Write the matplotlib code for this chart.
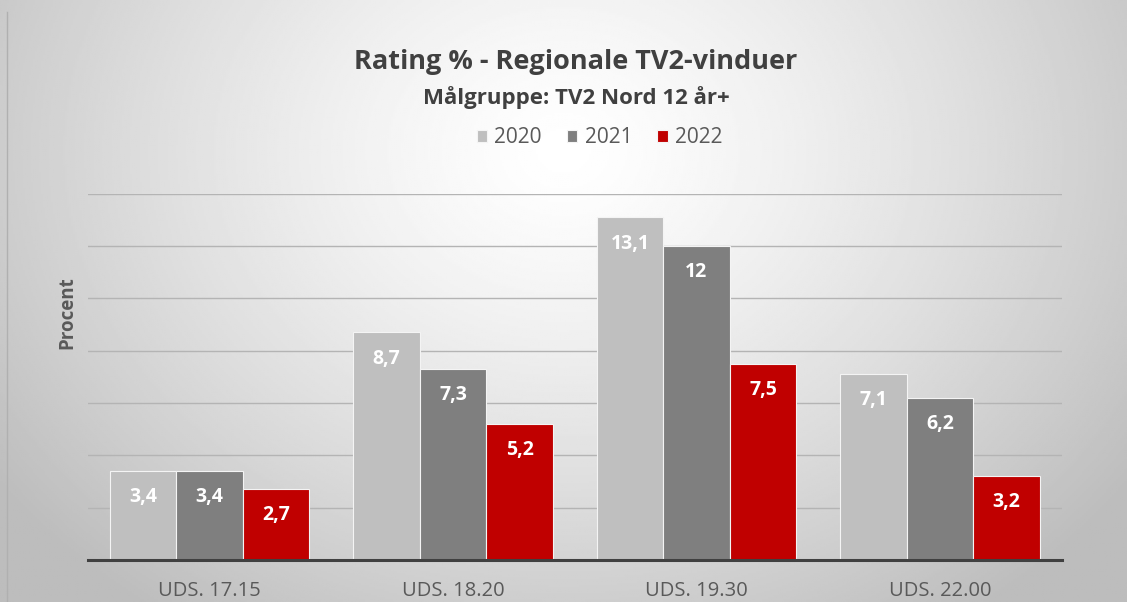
import matplotlib.pyplot as plt
import numpy as np

# ======= DATA =======
categories = ["UDS. 17.15", "UDS. 18.20", "UDS. 19.30", "UDS. 22.00"]
years = ["2020", "2021", "2022"]
values_2020 = [3.4, 8.7, 13.1, 7.1]
values_2021 = [3.4, 7.3, 12, 6.2]
values_2022 = [2.7, 5.2, 7.5, 3.2]
label_2020 = ["3,4", "8,7", "13,1", "7,1"]
label_2021 = ["3,4", "7,3", "12", "6,2"]
label_2022 = ["2,7", "5,2", "7,5", "3,2"]

colors = ["#bfbfbf", "#7f7f7f", "#c00000"]
text_color = "#404040"
font = ["Open Sans", "DejaVu Sans"]

fig = plt.figure(figsize=(11.27, 6.02), dpi=100)

# ======= RADIAL GRADIENT BACKGROUND =======
bg = fig.add_axes([0, 0, 1, 1], zorder=-10)
yy, xx = np.mgrid[0:1:300j, 0:1:560j]
r = np.sqrt(((xx - 0.5) / 0.62) ** 2 + ((yy - 0.25) / 0.95) ** 2)
shade = 1.0 - 0.26 * np.clip(r, 0, 1) ** 1.3
bg.imshow(shade, cmap="gray", vmin=0, vmax=1, aspect="auto", extent=[0, 1, 1, 0])
bg.set_xlim(0, 1)
bg.set_ylim(1, 0)
bg.axis("off")
bg.plot([0.006, 0.006], [0.02, 1], color="#b0b0b0", lw=1)

# ======= BARS =======
ax = fig.add_axes([0.078, 0.070, 0.864, 0.608])
ax.patch.set_alpha(0)
x = np.arange(len(categories))
w = 0.273
series = [values_2020, values_2021, values_2022]
labels = [label_2020, label_2021, label_2022]
for i, (vals, labs) in enumerate(zip(series, labels)):
    pos = x + (i - 1) * w
    ax.bar(pos, vals, width=w, color=colors[i], edgecolor="#f4f4f4", linewidth=0.8,
           label=years[i], zorder=3)
    for p, v, t in zip(pos, vals, labs):
        ax.text(p, v - 1.0, t, ha="center", va="center", color="white",
                fontsize=14, fontweight="bold", family=font, zorder=4)

ax.set_xlim(-0.5, len(categories) - 0.5)
ax.set_ylim(0, 14)
ax.set_yticks(np.arange(2, 15, 2))
ax.yaxis.grid(True, color="#b4b4b4", linewidth=1, zorder=0)
ax.tick_params(axis="y", length=0, labelleft=False)
ax.tick_params(axis="x", length=0, pad=15)
ax.set_xticks(x)
ax.set_xticklabels(categories, fontsize=14.5, color="#595959", family=font)
for s in ["top", "right", "left"]:
    ax.spines[s].set_visible(False)
ax.spines["bottom"].set_color("#404040")
ax.spines["bottom"].set_linewidth(2.2)
ax.spines["bottom"].set_zorder(5)

fig.text(0.060, 0.480, "Procent", rotation=90, ha="center", va="center",
         fontsize=13.5, fontweight="bold", color="#595959", family=font)

# ======= TITLES / LEGEND =======
fig.text(0.511, 0.897, "Rating % - Regionale TV2-vinduer", ha="center", va="center",
         fontsize=19.5, fontweight="bold", color=text_color, family=font)
fig.text(0.511, 0.838, "Målgruppe: TV2 Nord 12 år+", ha="center", va="center",
         fontsize=16, fontweight="bold", color=text_color, family=font)
fig.legend(loc="center", bbox_to_anchor=(0.532, 0.771), ncol=3, frameon=False,
           prop={"family": font, "size": 15}, handlelength=0.5, handleheight=0.5,
           handletextpad=0.35, columnspacing=1.2, labelcolor="#595959")

plt.savefig("out.png", dpi=100)
plt.close()
